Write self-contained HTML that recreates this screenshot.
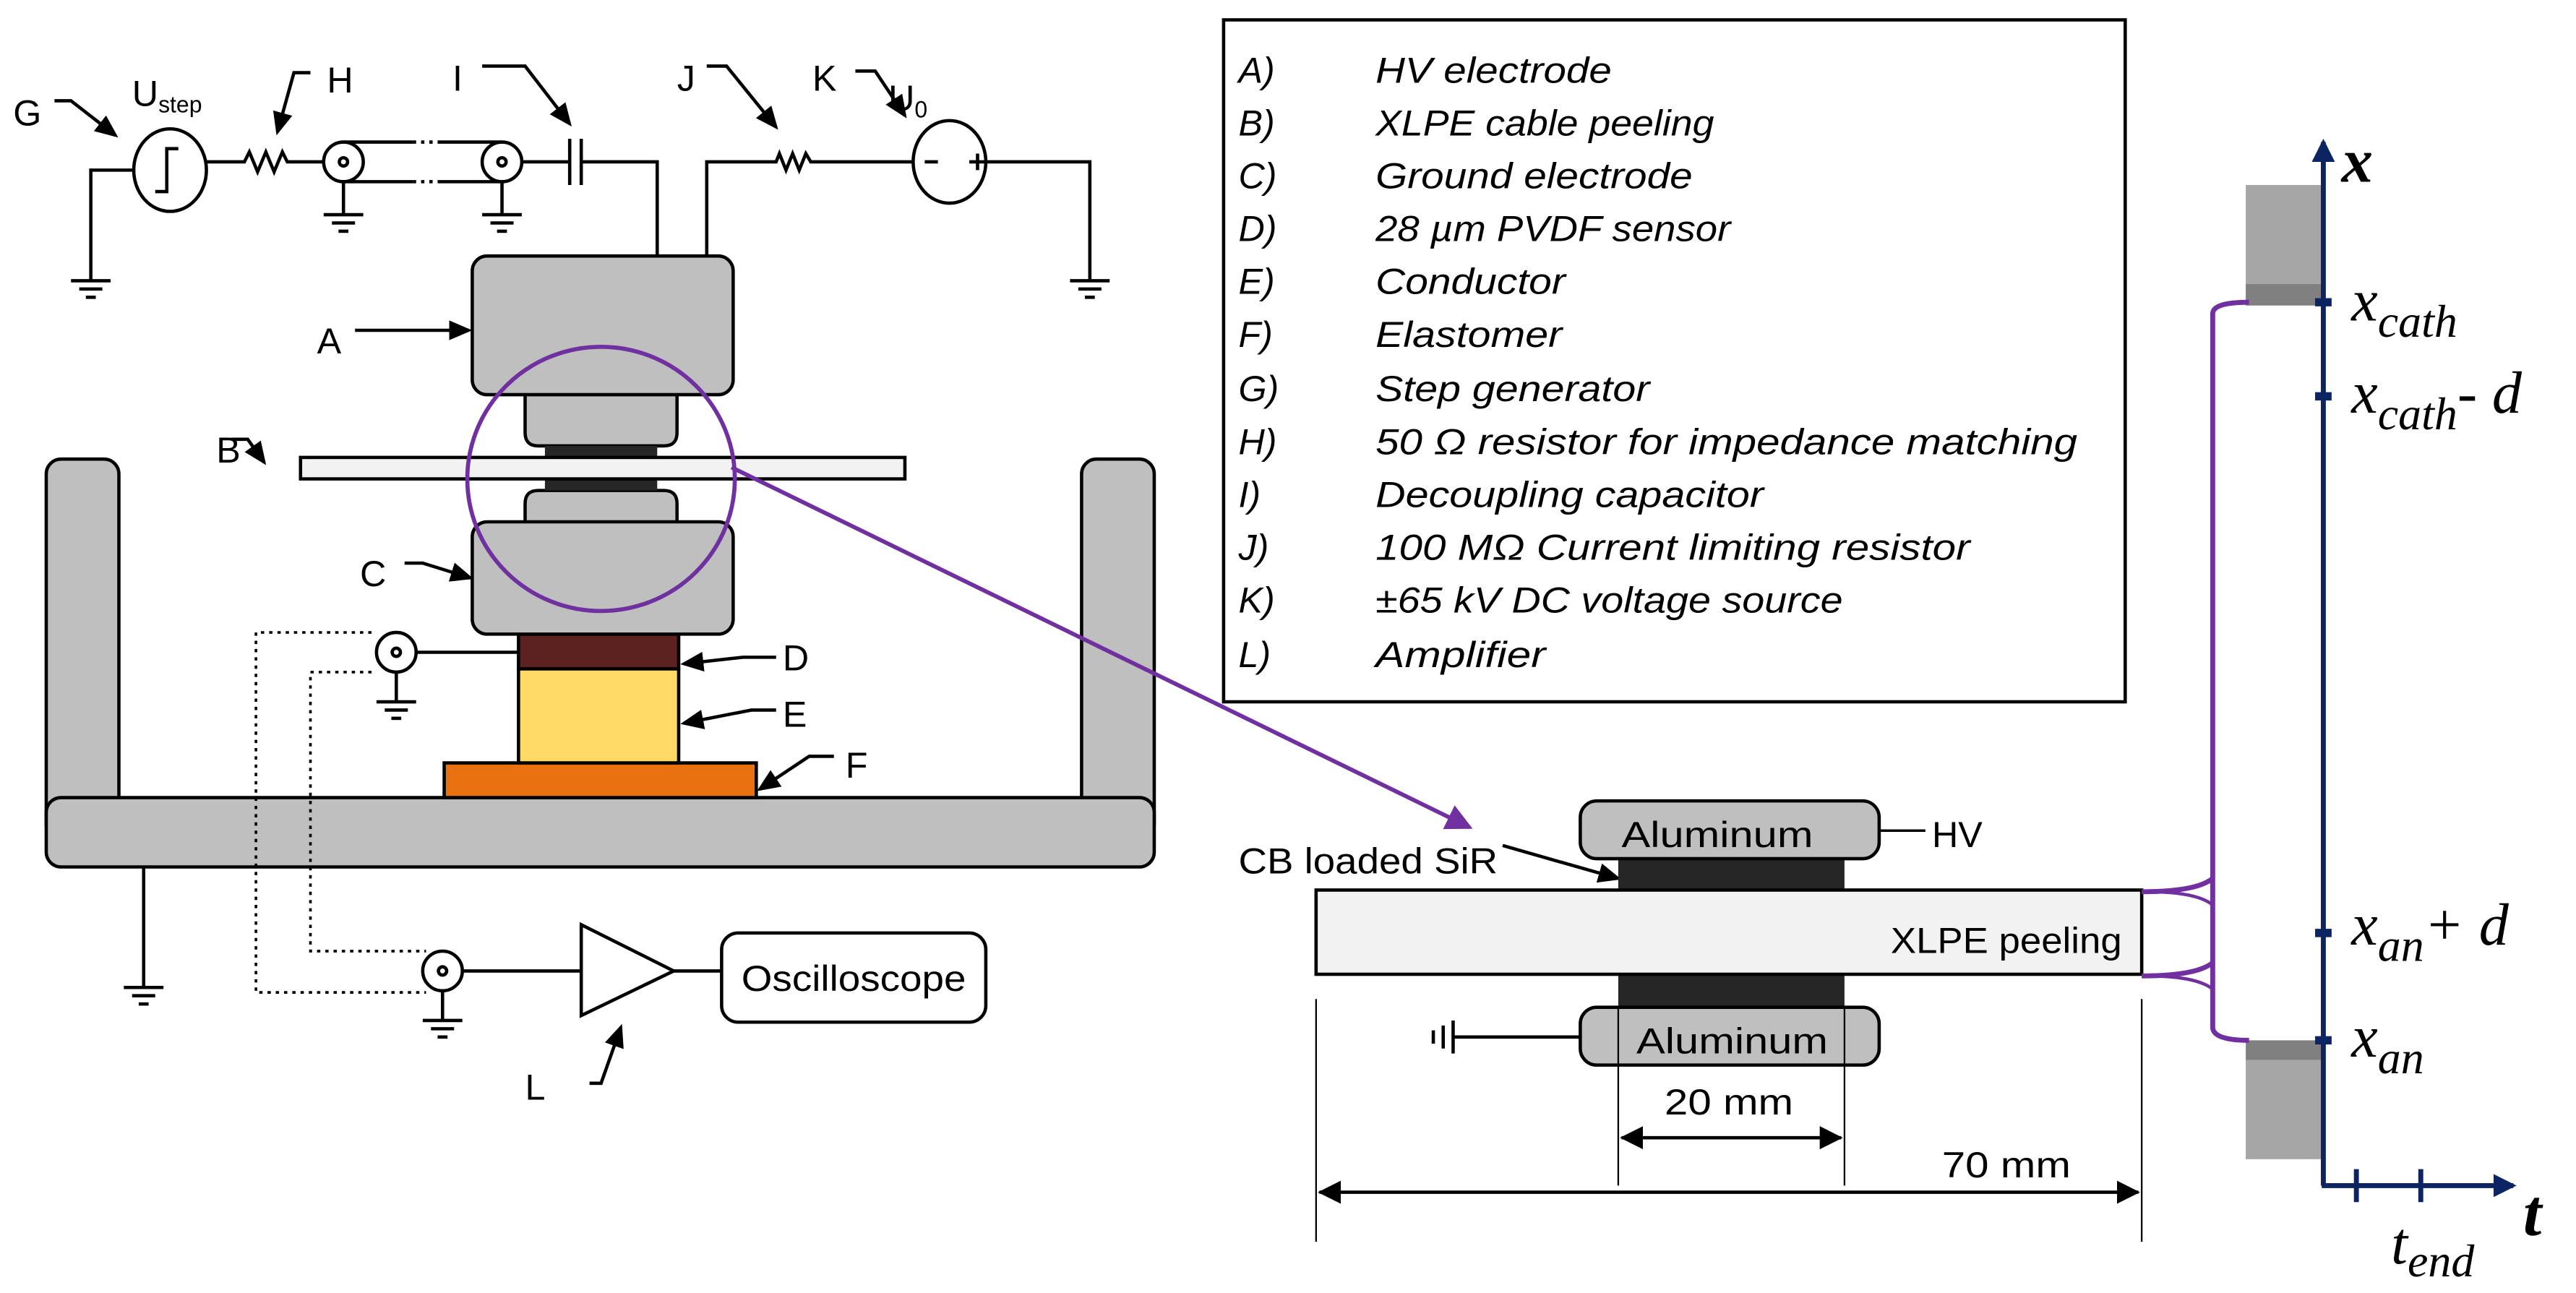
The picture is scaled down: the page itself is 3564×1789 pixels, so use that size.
<!DOCTYPE html>
<html><head><meta charset="utf-8"><style>
html,body{margin:0;padding:0;background:#fff;width:3564px;height:1789px;overflow:hidden}
svg{display:block}
.t{font-family:"Liberation Sans",sans-serif;font-size:22px;fill:#000}
.lg{font-family:"Liberation Sans",sans-serif;font-size:22px;font-style:italic;fill:#000}
.m{font-family:"Liberation Serif",serif;font-style:italic;fill:#000}
</style></head><body>
<svg width="3564" height="1789" viewBox="0 0 1560 783" xmlns="http://www.w3.org/2000/svg">
<defs>
<marker id="ab" markerWidth="14" markerHeight="14" refX="12" refY="7" orient="auto" markerUnits="userSpaceOnUse"><path d="M0,1 L14,7 L0,13 z" fill="#000"/></marker>
<marker id="ap" markerWidth="16" markerHeight="16" refX="14" refY="8" orient="auto" markerUnits="userSpaceOnUse"><path d="M0,0 L16,8 L0,16 z" fill="#7030a0"/></marker>
<marker id="an" markerWidth="14" markerHeight="14" refX="12" refY="7" orient="auto" markerUnits="userSpaceOnUse"><path d="M0,0 L14,7 L0,14 z" fill="#0c2461"/></marker>
<marker id="dm" markerWidth="14" markerHeight="14" refX="13" refY="7" orient="auto-start-reverse" markerUnits="userSpaceOnUse"><path d="M0,0 L14,7 L0,14 z" fill="#000"/></marker>
<g id="gnd" stroke="#000" stroke-width="2"><line x1="-12" y1="0" x2="12" y2="0"/><line x1="-7" y1="5" x2="7" y2="5"/><line x1="-3" y1="10" x2="3" y2="10"/></g>
</defs>

<!-- frame -->
<g fill="#bfbfbf" stroke="#000" stroke-width="2">
<rect x="28" y="278" width="44" height="230" rx="9"/>
<rect x="655" y="278" width="44" height="230" rx="9"/>
<rect x="28" y="483" width="671" height="42" rx="9"/>
</g>
<!-- stack -->
<rect x="269" y="462" width="189" height="21" fill="#e97210" stroke="#000" stroke-width="2"/>
<rect x="314" y="405" width="97" height="57" fill="#ffd966" stroke="#000" stroke-width="2"/>
<rect x="314" y="384" width="97" height="21" fill="#5c2220" stroke="#000" stroke-width="2"/>
<g fill="#bfbfbf" stroke="#000" stroke-width="2">
<path d="M318,238 H410 V262 Q410,270 402,270 H326 Q318,270 318,262 Z"/>
<path d="M326,297 H402 Q410,297 410,305 V318 H318 V305 Q318,297 326,297 Z"/>
<rect x="286" y="155" width="158" height="84" rx="9"/>
<rect x="286" y="316" width="158" height="68" rx="9"/>
</g>
<rect x="330" y="270" width="68" height="7" fill="#262626"/>
<rect x="330" y="290" width="68" height="7" fill="#262626"/>
<rect x="182" y="277" width="366" height="13" fill="#f2f2f2" stroke="#000" stroke-width="2"/>
<ellipse cx="364" cy="290" rx="81" ry="80" fill="none" stroke="#7030a0" stroke-width="2.5"/>
<line x1="443" y1="283" x2="890" y2="501" stroke="#7030a0" stroke-width="2.5" marker-end="url(#ap)"/>

<!-- top circuit -->
<g stroke="#000" stroke-width="2" fill="none">
<path d="M81,103 H55 V170"/>
<ellipse cx="103" cy="103" rx="22" ry="25" fill="#fff"/>
<path d="M94,116 H101 V90 H108"/>
<path d="M125,98 H148 l3,-6 l5,12 l5,-12 l5,12 l5,-12 l3,6 H196"/>
<circle cx="208" cy="98" r="12" fill="#fff"/><circle cx="208" cy="98" r="2.5"/>
<circle cx="304" cy="98" r="12" fill="#fff"/><circle cx="304" cy="98" r="2.5"/>
<path d="M208,86 H250 M265,86 H304 M208,110 H250 M265,110 H304"/>
<path d="M250,86 H265 M250,110 H265" stroke-dasharray="2,3"/>
<path d="M208,110 V130 M304,110 V130"/>
<path d="M316,98 H345 M352,98 H398 V155"/>
<path d="M345,84 V112 M352,84 V112"/>
<path d="M428,155 V98 H470 l2,-5 l4,10 l4,-10 l4,10 l4,-10 l3,5 H553"/>
<ellipse cx="575" cy="98" rx="22" ry="25" fill="#fff"/>
<path d="M597,98 H660 V170"/>
<path d="M560,98 h8 M587,98 h10 M592,93 v10"/>
</g>
<use href="#gnd" x="55" y="170"/><use href="#gnd" x="660" y="170"/>
<use href="#gnd" x="208" y="130"/>
<use href="#gnd" x="304" y="130"/>
<!-- label leaders -->
<g stroke="#000" stroke-width="2" fill="none" marker-end="url(#ab)">
<path d="M33,61 H43 L70,82"/>
<path d="M188,44 H178 L168,80"/>
<path d="M292,40 H318 L345,75"/>
<path d="M428,40 H440 L470,77"/>
<path d="M518,43 H530 L548,70"/>
<path d="M215,200 H284"/>
<path d="M140,266 H150 L160,280"/>
<path d="M245,341 H256 L285,350"/>
<path d="M470,398 H450 L414,402"/>
<path d="M470,430 H455 L414,438"/>
<path d="M505,458 H490 L460,478"/>
<path d="M910,512 L980,532"/>
<path d="M357,656 H364 L376,622"/>
</g>
<g class="t">
<text x="8" y="76">G</text><text x="80" y="64">U<tspan font-size="14" dy="4">step</tspan></text>
<text x="198" y="56">H</text><text x="274" y="55">I</text><text x="410" y="55">J</text>
<text x="492" y="55">K</text><text x="538" y="67">U<tspan font-size="14" dy="4">0</tspan></text>
<text x="192" y="214">A</text><text x="131" y="280">B</text><text x="218" y="355">C</text>
<text x="474" y="406">D</text><text x="474" y="440">E</text><text x="512" y="471">F</text>
<text x="318" y="666">L</text>
</g>

<!-- sensor wiring -->
<g stroke="#000" stroke-width="2" fill="none">
<circle cx="240" cy="395" r="12" fill="#fff"/><circle cx="240" cy="395" r="2.5"/>
<path d="M252,395 H314 M240,407 V425"/>
<path d="M87,525 V598"/>
<circle cx="268" cy="588" r="12" fill="#fff"/><circle cx="268" cy="588" r="2.5"/>
<path d="M268,600 V618 M280,588 H352"/>
<path d="M352,560 L408,588 L352,615 Z" fill="#fff"/>
<path d="M408,588 H437"/>
<rect x="437" y="565" width="160" height="54" rx="10" fill="#fff"/>
</g>
<g stroke="#000" stroke-width="1.6" fill="none" stroke-dasharray="2,3">
<path d="M225,383 H155 V601 H258"/>
<path d="M225,407 H188 V576 H258"/>
</g>
<use href="#gnd" x="240" y="425"/><use href="#gnd" x="268" y="618"/><use href="#gnd" x="87" y="598"/>
<text class="t" x="517" y="600" text-anchor="middle" font-size="23" textLength="136" lengthAdjust="spacingAndGlyphs">Oscilloscope</text>

<!-- legend -->
<rect x="741" y="12" width="546" height="413" fill="#fff" stroke="#000" stroke-width="2"/>
<g class="lg">
<text x="750" y="50">A)</text><text x="833" y="50" textLength="143" lengthAdjust="spacingAndGlyphs">HV electrode</text>
<text x="750" y="82">B)</text><text x="833" y="82" textLength="205" lengthAdjust="spacingAndGlyphs">XLPE cable peeling</text>
<text x="750" y="114">C)</text><text x="833" y="114" textLength="192" lengthAdjust="spacingAndGlyphs">Ground electrode</text>
<text x="750" y="146">D)</text><text x="833" y="146" textLength="215" lengthAdjust="spacingAndGlyphs">28 µm PVDF sensor</text>
<text x="750" y="178">E)</text><text x="833" y="178" textLength="115" lengthAdjust="spacingAndGlyphs">Conductor</text>
<text x="750" y="210">F)</text><text x="833" y="210" textLength="113" lengthAdjust="spacingAndGlyphs">Elastomer</text>
<text x="750" y="243">G)</text><text x="833" y="243" textLength="166" lengthAdjust="spacingAndGlyphs">Step generator</text>
<text x="750" y="275">H)</text><text x="833" y="275" textLength="425" lengthAdjust="spacingAndGlyphs">50 Ω  resistor for impedance matching</text>
<text x="750" y="307">I)</text><text x="833" y="307" textLength="235" lengthAdjust="spacingAndGlyphs">Decoupling capacitor</text>
<text x="750" y="339">J)</text><text x="833" y="339" textLength="360" lengthAdjust="spacingAndGlyphs">100 MΩ Current limiting resistor</text>
<text x="750" y="371">K)</text><text x="833" y="371" textLength="283" lengthAdjust="spacingAndGlyphs">±65 kV DC voltage source</text>
<text x="750" y="404">L)</text><text x="833" y="404" textLength="103" lengthAdjust="spacingAndGlyphs">Amplifier</text>
</g>

<!-- detail -->
<rect x="980" y="519" width="137" height="21" fill="#262626"/>
<rect x="980" y="589" width="137" height="22" fill="#262626"/>
<g fill="#bfbfbf" stroke="#000" stroke-width="2">
<rect x="957" y="485" width="181" height="35" rx="10"/>
<rect x="957" y="610" width="181" height="35" rx="10"/>
</g>
<rect x="797" y="539" width="500" height="51" fill="#f2f2f2" stroke="#000" stroke-width="2"/>
<g stroke="#000" stroke-width="1.5" fill="none">
<path d="M1138,503 H1166"/>
<path d="M957,628 H880" stroke-width="2"/>
<path d="M880,618 V638 M874,621 V635 M868,624 V632" stroke-width="2"/>
<path d="M980,610 V718 M1117,610 V718 M797,605 V752 M1297,605 V752" stroke-width="1"/>
<path d="M982,689 H1115" stroke-width="2" marker-start="url(#dm)" marker-end="url(#dm)"/>
<path d="M799,722 H1295" stroke-width="2" marker-start="url(#dm)" marker-end="url(#dm)"/>
</g>
<g class="t" font-size="23">
<text x="1040" y="513" text-anchor="middle" textLength="116" lengthAdjust="spacingAndGlyphs">Aluminum</text>
<text x="1049" y="638" text-anchor="middle" textLength="116" lengthAdjust="spacingAndGlyphs">Aluminum</text>
<text x="1170" y="513">HV</text>
<text x="1285" y="577" text-anchor="end" textLength="140" lengthAdjust="spacingAndGlyphs">XLPE peeling</text>
<text x="750" y="529" textLength="157" lengthAdjust="spacingAndGlyphs">CB loaded SiR</text>
<text x="1047" y="675" text-anchor="middle" textLength="78" lengthAdjust="spacingAndGlyphs">20 mm</text>
<text x="1215" y="713" text-anchor="middle" textLength="78" lengthAdjust="spacingAndGlyphs">70 mm</text>
</g>

<!-- axis -->
<rect x="1360" y="112" width="47" height="60" fill="#a6a6a6"/>
<rect x="1360" y="172" width="47" height="13" fill="#808080"/>
<rect x="1360" y="630" width="47" height="12" fill="#808080"/>
<rect x="1360" y="642" width="47" height="60" fill="#a6a6a6"/>
<g stroke="#7030a0" stroke-width="3" fill="none">
<path d="M1362,183 Q1340,183 1340,190 V622 Q1340,630 1362,630"/>
<path d="M1297,540 Q1330,540 1340,532 M1297,591 Q1330,591 1340,583"/>
<path d="M1300,540 Q1330,540 1340,548 M1300,591 Q1330,591 1340,599" stroke-width="2"/>
</g>
<g stroke="#0c2461" stroke-width="3" fill="none">
<path d="M1407,718 V86" marker-end="url(#an)"/>
<path d="M1406,718 H1522" marker-end="url(#an)"/>
<path d="M1427,708 V728 M1466,708 V728"/>
<path d="M1402,183 h10 M1402,240 h10 M1402,565 h10 M1402,630 h10" stroke-width="5"/>
</g>
<g class="m">
<text x="1418" y="110" font-size="38" font-weight="bold">x</text>
<text x="1424" y="194" font-size="36">x<tspan font-size="28" dy="10">cath</tspan></text>
<text x="1424" y="250" font-size="36">x<tspan font-size="28" dy="10">cath</tspan><tspan dy="-10">- d</tspan></text>
<text x="1424" y="572" font-size="36">x<tspan font-size="28" dy="10">an</tspan><tspan dy="-10">+ d</tspan></text>
<text x="1424" y="640" font-size="36">x<tspan font-size="28" dy="10">an</tspan></text>
<text x="1528" y="748" font-size="40" font-weight="bold">t</text>
<text x="1448" y="765" font-size="36">t<tspan font-size="28" dy="8">end</tspan></text>
</g>
</svg>
</body></html>
